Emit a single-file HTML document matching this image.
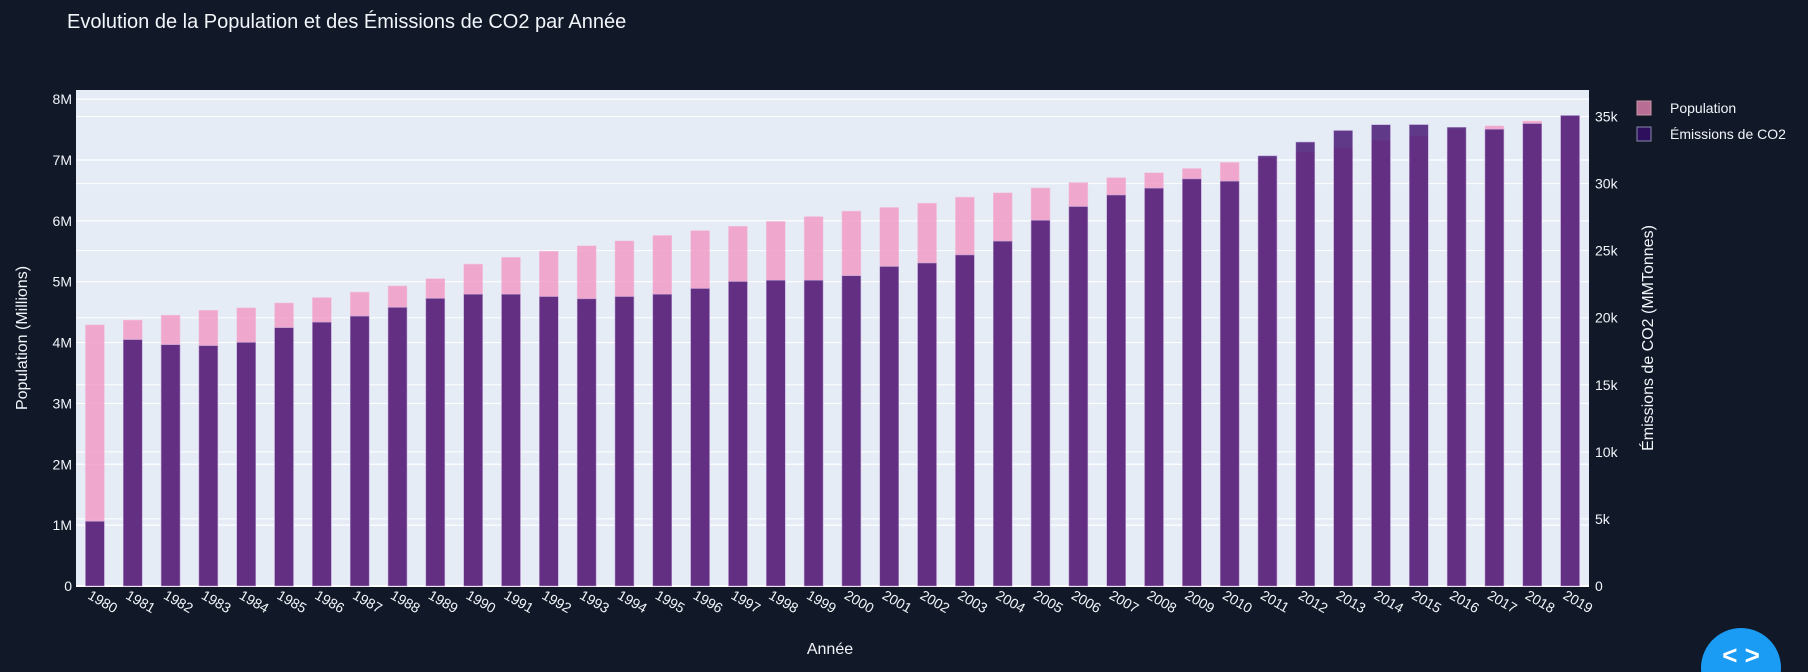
<!DOCTYPE html>
<html><head><meta charset="utf-8"><style>
html,body{margin:0;background:#111827;overflow:hidden;width:1808px;height:672px;}
svg{display:block;font-family:"Liberation Sans",sans-serif;}
</style></head><body>
<svg id="chart" width="1808" height="672">
<rect width="1808" height="672" fill="#111827"/>
<text x="67" y="28" fill="#f2f5fa" font-size="20">Evolution de la Population et des Émissions de CO2 par Année</text>
<rect x="76" y="90" width="1513" height="496" fill="#e5ecf6"/>
<g id="grid"></g><g id="bars"></g><g id="axes"></g>
<text transform="translate(27,338) rotate(-90)" text-anchor="middle" fill="#f2f5fa" font-size="16">Population (Millions)</text>
<text transform="translate(1653,338) rotate(-90)" text-anchor="middle" fill="#f2f5fa" font-size="16">Émissions de CO2 (MMTonnes)</text>
<text x="830" y="654" text-anchor="middle" fill="#f2f5fa" font-size="16">Année</text>
<g>
<rect x="1637" y="101" width="14" height="14" fill="#b86d94" stroke="#c9a"/>
<text x="1670" y="113" fill="#f2f5fa" font-size="14">Population</text>
<rect x="1637" y="127" width="14" height="14" fill="#2e0f5e" stroke="#88a"/>
<text x="1670" y="139" fill="#f2f5fa" font-size="14">Émissions de CO2</text>
</g>
<path d="M1701.2 672 A40 40 0 1 1 1780.8 672 Z" fill="#1a9cf5"/>
<text x="1741" y="664" text-anchor="middle" fill="#fff" font-size="26" font-weight="bold">&lt; &gt;</text>
</svg>
<script>
const years=[1980,1981,1982,1983,1984,1985,1986,1987,1988,1989,1990,1991,1992,1993,1994,1995,1996,1997,1998,1999,2000,2001,2002,2003,2004,2005,2006,2007,2008,2009,2010,2011,2012,2013,2014,2015,2016,2017,2018,2019];
const population=[4.29,4.37,4.45,4.53,4.57,4.65,4.74,4.83,4.93,5.05,5.29,5.40,5.50,5.59,5.67,5.76,5.84,5.91,5.99,6.07,6.16,6.22,6.29,6.39,6.46,6.54,6.63,6.71,6.79,6.86,6.96,7.03,7.13,7.20,7.32,7.39,7.50,7.56,7.64,7.72];
const co2=[4.82,18.37,17.99,17.92,18.16,19.26,19.67,20.12,20.77,21.44,21.75,21.75,21.58,21.41,21.58,21.75,22.18,22.70,22.79,22.79,23.13,23.82,24.08,24.68,25.71,27.26,28.29,29.15,29.66,30.35,30.18,32.07,33.1,33.96,34.39,34.4,34.2,34.05,34.48,35.08];
const leftTicks=[0,1,2,3,4,5,6,7,8];
const leftLabels=["0","1M","2M","3M","4M","5M","6M","7M","8M"];
const rightTicks=[0,5,10,15,20,25,30,35];
const rightLabels=["0","5k","10k","15k","20k","25k","30k","35k"];
const NS="http://www.w3.org/2000/svg";
const X0=76,X1=1589,Y0=586,YT=90;
const step=(X1-X0)/years.length;
const yL=v=>Y0-v*(Y0-YT)/8.15;
const yR=v=>Y0-v*(Y0-YT)/36.98;
const xC=i=>X0+step*(i+0.5);
function mk(tag,attrs,parent){const e=document.createElementNS(NS,tag);for(const k in attrs)e.setAttribute(k,attrs[k]);parent.appendChild(e);return e;}
const grid=document.getElementById('grid'),bars=document.getElementById('bars'),axes=document.getElementById('axes');
leftTicks.forEach((t,i)=>{
 const l=mk('line',{x1:X0,x2:X1,y1:yL(t),y2:yL(t),stroke:'#fff','stroke-width':t===0?2:1.2},grid);
 
 
 const tx=mk('text',{x:X0-4,y:yL(t)+5,'text-anchor':'end',fill:'#f2f5fa','font-size':14},axes);
 tx.textContent=leftLabels[i];
 
 
});
rightTicks.forEach((t,i)=>{
 const l=mk('line',{x1:X0,x2:X1,y1:yR(t),y2:yR(t),stroke:'#fff','stroke-width':1},grid);
 
 
 const tx=mk('text',{x:X1+6,y:yR(t)+5,fill:'#f2f5fa','font-size':14},axes);
 tx.textContent=rightLabels[i];
 
 
});
const bw=step*0.5;
years.forEach((yr,i)=>{
 const x=xC(i)-bw/2;
 const p=mk('rect',{x:x,y:yL(population[i]),width:bw,height:Y0-yL(population[i]),fill:'#f19bc6','fill-opacity':0.85,stroke:'#f2c4dc','stroke-width':0.5},bars);
 
 
 const c=mk('rect',{x:x,y:yR(co2[i]),width:bw,height:Y0-yR(co2[i]),fill:'#4a1a76','fill-opacity':0.85,stroke:'#b9a3d6','stroke-width':0.5},bars);
 
 
 const tx=mk('text',{transform:`translate(${xC(i)-8},${Y0+12}) rotate(30)`,fill:'#f2f5fa','font-size':14},axes);
 tx.textContent=yr;
 
 
});
</script>
</body></html>
